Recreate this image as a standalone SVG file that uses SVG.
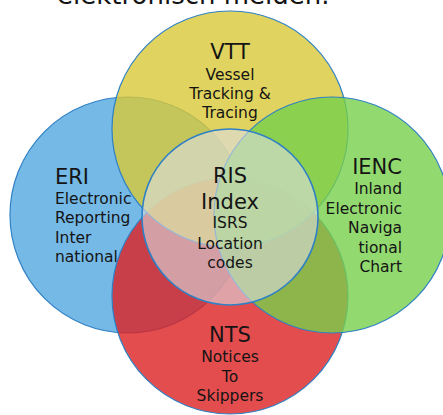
<svg xmlns="http://www.w3.org/2000/svg" width="443" height="415" viewBox="0 0 443 415">
<style>
  .c { stroke:#2f80c4; stroke-width:1.2; fill-opacity:0.8; }
  .mid { fill:#dcdee3; fill-opacity:0.6; stroke:#2f80c4; stroke-width:1.6; }
  text { font-family:"DejaVu Sans", Verdana, sans-serif; fill:#141414; }
  .t { font-size:21px; }
  .b { font-size:15.5px; }
  .m { text-anchor:middle; }
  .r { text-anchor:end; }
  .h { font-size:26px; }
</style>
<rect width="443" height="415" fill="#ffffff"/>
<text class="h" x="57" y="4">elektronisch melden.</text>
<g id="ERI">
  <circle class="c" cx="128" cy="215" r="118" fill="#53a8e0"/>
  <text class="t" x="55" y="184">ERI</text>
  <text class="b" x="55" y="204">Electronic</text>
  <text class="b" x="55" y="223">Reporting</text>
  <text class="b" x="55" y="243">Inter</text>
  <text class="b" x="55" y="262">national</text>
</g>
<g id="NTS">
  <circle class="c" cx="230" cy="296" r="118" fill="#dd2122"/>
  <text class="t m" x="230" y="342">NTS</text>
  <text class="b m" x="230" y="362">Notices</text>
  <text class="b m" x="230" y="382">To</text>
  <text class="b m" x="230" y="401">Skippers</text>
</g>
<g id="VTT">
  <circle class="c" cx="230" cy="129" r="118" fill="#d8c837"/>
  <text class="t m" x="230" y="59">VTT</text>
  <text class="b m" x="230" y="80">Vessel</text>
  <text class="b m" x="230" y="99">Tracking &amp;</text>
  <text class="b m" x="230" y="118">Tracing</text>
</g>
<g id="IENC">
  <circle class="c" cx="332" cy="215" r="118" fill="#77d04b"/>
  <text class="t r" x="402" y="174">IENC</text>
  <text class="b r" x="402" y="194">Inland</text>
  <text class="b r" x="402" y="214">Electronic</text>
  <text class="b r" x="402" y="233">Naviga</text>
  <text class="b r" x="402" y="253">tional</text>
  <text class="b r" x="402" y="272">Chart</text>
</g>
<g id="RIS">
  <circle class="mid" cx="230" cy="217" r="88"/>
  <text class="t m" x="230" y="183">RIS</text>
  <text class="t m" x="230" y="209">Index</text>
  <text class="b m" x="230" y="228">ISRS</text>
  <text class="b m" x="230" y="249">Location</text>
  <text class="b m" x="230" y="268">codes</text>
</g>
<g id="connectors"></g>
</svg>
